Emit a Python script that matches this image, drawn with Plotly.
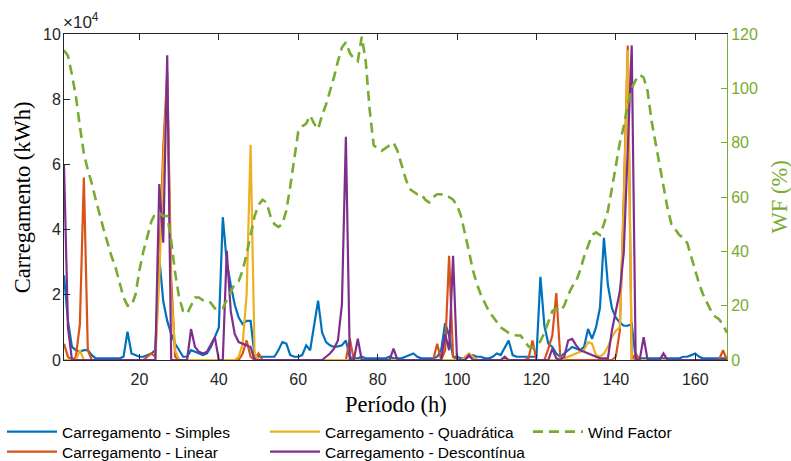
import plotly.graph_objects as go

# Hourly period (h)
hours = list(range(1, 169))

# Charging energy per strategy, in units of 10^4 kWh
simples = [
    2.6, 1.2, 0.4, 0.3, 0.25, 0.3, 0.3, 0.15, 0.05, 0.05,
    0.05, 0.05, 0.05, 0.05, 0.05, 0.1, 0.87, 0.2, 0.15, 0.1,
    0.1, 0.15, 0.2, 0.3, 3.15, 1.8, 1.2, 0.8, 0.5, 0.3,
    0.1, 0.1, 0.3, 0.25, 0.2, 0.15, 0.2, 0.4, 0.7, 1.0,
    4.38, 3.0, 2.3, 1.7, 1.3, 1.1, 1.2, 1.2, 0.15, 0.1,
    0.1, 0.1, 0.1, 0.1, 0.3, 0.55, 0.5, 0.15, 0.1, 0.1,
    0.15, 0.45, 0.3, 1.0, 1.82, 0.85, 0.55, 0.45, 0.4, 0.42,
    0.45, 0.6, 0.08, 0.05, 0.05, 0.1, 0.05, 0.05, 0.05, 0.05,
    0.05, 0.05, 0.1, 0.05, 0.05, 0.05, 0.1, 0.15, 0.2, 0.1,
    0.05, 0.05, 0.05, 0.05, 0.1, 0.3, 1.13, 0.75, 0.1, 0.1,
    0.05, 0.05, 0.1, 0.15, 0.1, 0.1, 0.05, 0.05, 0.1, 0.2,
    0.15, 0.4, 0.6, 0.15, 0.1, 0.1, 0.1, 0.1, 0.1, 0.1,
    2.55, 1.05, 0.5, 0.4, 0.2, 0.1, 0.2, 0.3, 0.4, 0.35,
    0.3, 0.4, 0.95, 0.65, 1.0, 1.6, 3.75, 2.3, 1.6, 1.3,
    1.15, 1.05, 1.05, 1.1, 0.05, 0.05, 0.05, 0.05, 0.05, 0.05,
    0.05, 0.05, 0.05, 0.05, 0.05, 0.05, 0.1, 0.1, 0.15, 0.2,
    0.1, 0.05, 0.05, 0.05, 0.05, 0.05, 0.05, 0.05,
]

linear = [
    0.5, 0.1, 0, 0.1, 1.1, 5.6, 0.3, 0, 0, 0,
    0, 0, 0, 0, 0, 0, 0, 0, 0, 0,
    0, 0.1, 0.2, 0.1, 3.0, 6.5, 8.8, 2.5, 0.1, 0,
    0, 0, 0, 0, 0, 0, 0, 0, 0, 0,
    0, 0, 0, 0, 0, 0.2, 0.6, 0.1, 0, 0.2,
    0, 0, 0, 0, 0, 0, 0, 0, 0, 0,
    0, 0, 0, 0, 0, 0, 0, 0, 0, 0,
    0, 0, 0.65, 0, 0, 0, 0, 0, 0, 0,
    0, 0, 0, 0, 0, 0, 0, 0, 0, 0,
    0, 0, 0, 0, 0.5, 0, 0.3, 3.2, 0.1, 0,
    0, 0, 0.15, 0.1, 0, 0, 0, 0, 0, 0,
    0, 0, 0, 0, 0, 0, 0, 0.05, 0.6, 0,
    0, 0, 0.35, 0.75, 2.05, 0.1, 0, 0, 0, 0,
    0, 0, 0, 0, 0, 0, 0, 0, 0, 0.1,
    0.9, 5.0, 9.65, 0, 0.2, 0, 0, 0, 0, 0,
    0, 0, 0, 0, 0, 0, 0, 0, 0, 0,
    0, 0, 0, 0, 0, 0, 0.3, 0,
]

quadratica = [
    0, 0, 0, 0, 0.3, 0, 0, 0, 0, 0,
    0, 0, 0, 0, 0, 0, 0, 0, 0, 0,
    0, 0, 0, 0, 2.5, 6.0, 8.5, 2.0, 0.3, 0,
    0, 0, 0, 0, 0, 0, 0, 0, 0, 0,
    0, 0, 0, 0, 0.1, 0.5, 2.0, 6.6, 0.2, 0,
    0, 0, 0, 0, 0, 0, 0, 0, 0, 0,
    0, 0, 0, 0, 0, 0, 0, 0, 0, 0,
    0, 0, 0, 0, 0, 0, 0, 0, 0, 0,
    0, 0, 0, 0, 0, 0, 0, 0, 0, 0,
    0, 0, 0, 0, 0, 0, 0, 0, 0, 0,
    0, 0.1, 0.2, 0.1, 0, 0, 0, 0, 0, 0,
    0, 0, 0, 0, 0, 0, 0, 0, 0, 0,
    0, 0, 0, 0, 0, 0, 0.05, 0.1, 0.15, 0.2,
    0.25, 0.3, 0.55, 0.5, 0.15, 0.1, 0.2, 0.4, 0.7, 0.9,
    1.0, 4.8, 9.5, 0, 0, 0, 0, 0, 0, 0,
    0, 0, 0, 0, 0, 0, 0, 0, 0, 0,
    0, 0, 0, 0, 0, 0, 0, 0,
]

descontinua = [
    6.0, 1.0, 0, 0, 0, 0, 0, 0, 0, 0,
    0, 0, 0, 0, 0, 0, 0, 0, 0, 0,
    0, 0, 0, 0, 5.4, 3.6, 9.35, 0, 0, 0,
    0, 0, 0.95, 0.4, 0.25, 0.2, 0.25, 0.5, 0.7, 0,
    0, 3.35, 1.5, 0.8, 0.55, 0.5, 0.45, 0.4, 0, 0,
    0, 0, 0, 0, 0, 0, 0, 0, 0, 0,
    0, 0, 0, 0, 0, 0, 0.1, 0.2, 0.35, 0.6,
    1.7, 6.85, 0, 0, 0.65, 0, 0, 0, 0, 0,
    0, 0, 0, 0.35, 0, 0, 0, 0, 0, 0,
    0, 0, 0, 0, 0, 0, 0.8, 0.3, 3.2, 0,
    0, 0, 0.15, 0, 0, 0, 0, 0, 0, 0,
    0, 0.1, 0, 0, 0, 0, 0, 0, 0, 0,
    0, 0, 0, 0.35, 0.05, 0, 0.1, 0.6, 0.65, 0.45,
    0.3, 0.25, 0.2, 0.15, 0.1, 0.05, 0.05, 0.05, 0.9, 1.5,
    2.1, 3.3, 6.5, 9.65, 0, 0, 0.7, 0, 0, 0,
    0, 0.2, 0, 0, 0, 0, 0, 0, 0, 0,
    0, 0, 0, 0, 0, 0, 0, 0,
]

# Wind factor (%)
wind_factor = [
    114, 112, 105, 97, 86, 76, 70, 65, 59, 53,
    48, 43, 38, 34, 28, 23, 20, 20, 24, 33,
    40, 46, 51, 54, 54, 53, 53, 44, 32, 23,
    18, 17, 20, 23, 23, 22, 22, 21, 19, 19,
    19, 22, 25, 28, 29, 33, 39, 46, 53, 57,
    59, 58, 53, 50, 49, 50, 55, 64, 75, 84,
    86, 87, 90, 87, 85, 90, 94, 99, 104, 110,
    115, 117, 113, 111, 110, 119, 110, 92, 79, 78,
    77, 78, 79, 80, 77, 72, 67, 63, 62, 61,
    61, 59, 58, 60, 61, 61, 60, 60, 59, 57,
    53, 47, 40, 33, 28, 24, 21, 18, 16, 14,
    12, 11, 10, 9.5, 9, 9, 7, 5, 4.5, 5,
    7, 10, 14, 18, 19, 18, 20, 24, 27, 29,
    33, 38, 42, 46, 47, 46, 50, 55, 63, 72,
    80, 86, 94, 100, 103, 105, 104, 99, 88, 80,
    72, 64, 56, 50, 48, 46, 45, 43, 38, 33,
    28, 24, 21, 18, 16, 15, 13, 10,
]

x_ticks = [20, 40, 60, 80, 100, 120, 140, 160]
y_ticks = [0, 2, 4, 6, 8, 10]
wf_ticks = [0, 20, 40, 60, 80, 100, 120]

SCALE = 1e4  # kWh per axis unit

AXIS = "#262626"
GREEN = "#77AC30"
SANS = "Liberation Sans, Arial, sans-serif"
SERIF = "Liberation Serif, Times New Roman, serif"

# name, values, colour, legend slot
series = [
    ("Carregamento - Simples", simples, "#0072BD", "legend"),
    ("Carregamento - Linear", linear, "#D95319", "legend2"),
    ("Carregamento - Quadrática", quadratica, "#EDB120", "legend3"),
    ("Carregamento - Descontínua", descontinua, "#7E2F8E", "legend4"),
]

fig = go.Figure()
for name, vals, color, leg in series:
    fig.add_trace(go.Scatter(
        x=hours, y=[v * SCALE for v in vals], name=name, mode="lines",
        line=dict(color=color, width=2.2), legend=leg,
    ))

fig.add_trace(go.Scatter(
    x=hours, y=wind_factor, name="Wind Factor", mode="lines", yaxis="y2",
    line=dict(color=GREEN, width=2.6, dash="10px,6px"), legend="legend5",
))


def legend_at(x_px, top_px):
    return dict(
        xref="container", yref="container", xanchor="left", yanchor="top",
        x=x_px / 791, y=1 - top_px / 461,
        orientation="v", bgcolor="rgba(0,0,0,0)", itemwidth=50,
        font=dict(family=SANS, size=15.5, color="#000000"),
    )


fig.update_layout(
    width=791, height=461,
    margin=dict(l=64, r=64, t=34, b=101, autoexpand=False),
    paper_bgcolor="white", plot_bgcolor="white",
    showlegend=True,
    legend=legend_at(2, 415),
    legend2=legend_at(2, 435),
    legend3=legend_at(265, 415),
    legend4=legend_at(265, 435),
    legend5=legend_at(528, 415),
    xaxis=dict(
        range=[1, 168], tickvals=x_ticks, ticks="inside", ticklen=6,
        tickcolor=AXIS, showline=True, linecolor=AXIS, linewidth=1,
        mirror="ticks", showgrid=False, zeroline=False,
        ticklabelstandoff=5,
        tickfont=dict(family=SANS, size=16, color=AXIS),
    ),
    yaxis=dict(
        range=[0, 10 * SCALE], tickvals=[t * SCALE for t in y_ticks],
        ticktext=[str(t) for t in y_ticks], ticks="inside", ticklen=6,
        tickcolor=AXIS, showline=True, linecolor=AXIS, linewidth=1,
        showgrid=False, zeroline=False, ticklabelstandoff=-1,
        tickfont=dict(family=SANS, size=16, color=AXIS),
    ),
    yaxis2=dict(
        overlaying="y", side="right", range=[0, 120], tickvals=wf_ticks,
        ticks="inside", ticklen=6, tickcolor=GREEN, showline=True,
        linecolor=GREEN, linewidth=1, showgrid=False, zeroline=False,
        tickfont=dict(family=SANS, size=16, color=GREEN),
    ),
    annotations=[
        dict(text="Carregamento (kWh)", xref="paper", yref="paper",
             x=-0.063, y=0.5, xanchor="center", yanchor="middle",
             textangle=-90, showarrow=False,
             font=dict(family=SERIF, size=22.5, color="#000000")),
        dict(text="WF (%)", xref="paper", yref="paper",
             x=1.079, y=0.5, xanchor="center", yanchor="middle",
             textangle=-90, showarrow=False,
             font=dict(family=SERIF, size=22.5, color=GREEN)),
        dict(text="Período (h)", xref="paper", yref="paper",
             x=0.5, y=-0.093, xanchor="center", yanchor="top",
             showarrow=False,
             font=dict(family=SERIF, size=22.5, color="#000000")),
        dict(text="×10<sup>4</sup>", xref="paper", yref="paper",
             x=-0.004, y=1.0, xanchor="left", yanchor="bottom",
             showarrow=False,
             font=dict(family=SANS, size=17, color=AXIS)),
    ],
)

fig.write_html("out.html")
